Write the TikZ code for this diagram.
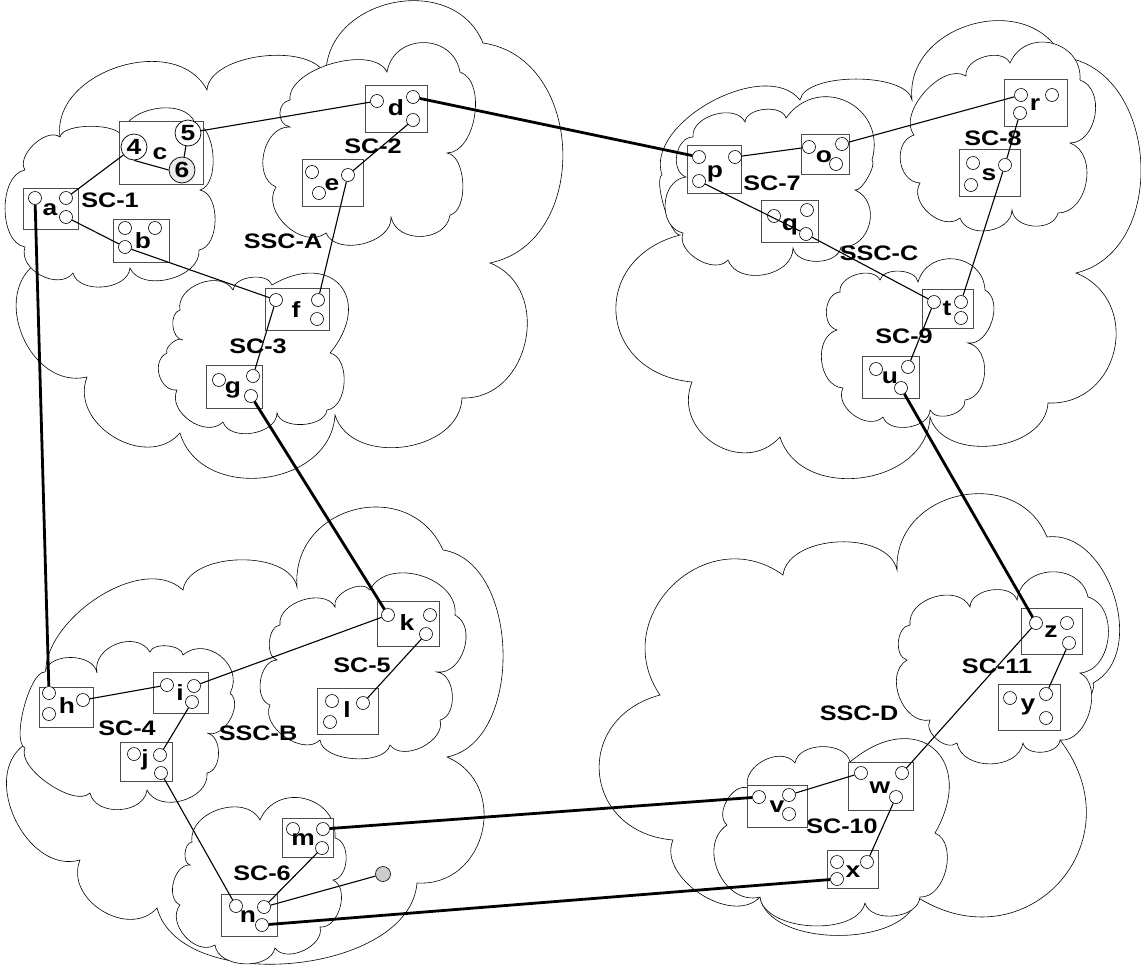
\documentclass[tikz,border=0pt]{standalone}
\usepackage{fontspec}
\newfontfamily\lab[FakeStretch=1.2]{Liberation Sans}
\usetikzlibrary{fit}
\begin{document}
\begin{tikzpicture}[x=1pt,y=-1pt,
  cloud/.style={draw=black, fill=white, line width=0.6pt},
  bu/.style={bend left=80, looseness=#1},
  box/.style={draw=black!70, line width=0.8pt, fill=white, inner sep=0pt, rectangle},
  port/.style={circle, draw=black, line width=0.6pt, fill=white, minimum size=13pt, inner sep=0pt},
  bigport/.style={circle, draw=black, line width=0.7pt, fill=white, minimum size=26pt, inner sep=0pt, font=\lab\bfseries\fontsize{22}{26}\selectfont},
  lbl/.style={font=\lab\bfseries\fontsize{21}{25}\selectfont, inner sep=0pt, anchor=base},
  let/.style={font=\lab\bfseries\fontsize{22}{26}\selectfont, inner sep=0pt, anchor=base},
  con/.style={line width=1.1pt},
  trunk/.style={line width=2.8pt}]
\fill[white] (0,0) rectangle (1141,967);
\useasboundingbox (0,0) rectangle (1141,967);

% ---------- super clouds ----------
% SSC-A
\path[cloud] (60,137) to[bu=1.1] (207,90) to[bu=0.8] (326,77) to[bu=1.26] (483,43) to[bu=1.2] (490,263) to[bu=1.27] (462,398) to[bu=1.1] (335,415) to[bu=1.2] (180,433) to[bu=1.2] (87,377) to[bu=1.2] (38,262) to[bu=0.15] (60,137) -- cycle;
% SSC-C
\path[cloud] (680,235) to[bu=0.4] (662,175) to[bu=0.9] (800,100) to[bu=0.65] (912,100) to[bu=1.25] (1062,57) to[bu=1.15] (1076,273) to[bu=1.4] (1048,403) to[bu=1.05] (930,417) to[bu=1.17] (780,437) to[bu=1.35] (692,382) to[bu=1.65] (680,235) -- cycle;
% SSC-B
\path[cloud] (50,690) to[bu=0.95] (183,590) to[bu=0.87] (297,587) to[bu=1.4] (443,550) to[bu=0.97] (447,757) to[bu=1.38] (417,883) to[bu=0.9] (157,908) to[bu=1.2] (80,860) to[bu=1.1] (24,745) to[bu=0.3] (50,690) -- cycle;
% SSC-D
\path[cloud] (660,695) to[bu=1.4] (783,575) to[bu=0.93] (897,570) to[bu=1.33] (1047,537) to[bu=1.05] (1093,683) to[bu=0.3] (1060,740) to[bu=1.55] (917,897) to[bu=0.85] (760,897) to[bu=1.0] (673,840) to[bu=1.6] (660,695) -- cycle;

% ---------- sub clouds ----------
% SC-1
\path[cloud] (25,170) to[bu=0.9] (60,137) to[bu=0.6] (122,137) to[bu=1.0] (195,123) to[bu=0.8] (200,190) to[bu=0.9] (199,250) to[bu=1.0] (130,268) to[bu=1.0] (73,273) to[bu=1.1] (25,247) to[bu=0.9] (25,170) -- cycle;
% SC-2
\path[cloud] (290,100) to[bu=0.8] (387,72) to[bu=1.4] (460,72) to[bu=0.9] (447,153) to[bu=0.8] (450,215) to[bu=1.2] (391,217) to[bu=1.0] (326,233) to[bu=1.1] (276,187) to[bu=1.1] (290,127) to[bu=1.3] (290,100) -- cycle;
% SC-3
\path[cloud] (180,310) to[bu=1.1] (233,290) to[bu=0.9] (272,285) to[bu=2.0] (330,353) to[bu=0.95] (327,410) to[bu=0.9] (277,413) to[bu=1.0] (223,422) to[bu=1.1] (177,390) to[bu=1.2] (167,353) to[bu=0.8] (183,340) to[bu=1.0] (180,310) -- cycle;
% SC-7
\path[cloud] (693,137) to[bu=1.0] (745,122) to[bu=0.9] (786,118) to[bu=1.5] (872,160) to[bu=0.5] (855,190) to[bu=1.3] (841,247) to[bu=1.0] (793,248) to[bu=1.1] (728,260) to[bu=1.0] (683,233) to[bu=1.2] (686,177) to[bu=1.1] (693,137) -- cycle;
% SC-8
\path[cloud] (914,135) to[bu=0.9] (966,76) to[bu=1.0] (1010,63) to[bu=1.4] (1080,80) to[bu=1.1] (1070,143) to[bu=1.1] (1058,213) to[bu=1.1] (1012,210) to[bu=1.1] (960,218) to[bu=1.1] (920,183) to[bu=1.2] (914,135) -- cycle;
% SC-9
\path[cloud] (840,292) to[bu=1.0] (880,280) to[bu=0.9] (918,282) to[bu=1.4] (985,290) to[bu=1.0] (968,343) to[bu=1.1] (965,400) to[bu=1.0] (930,410) to[bu=1.0] (883,417) to[bu=1.1] (843,388) to[bu=1.1] (837,330) to[bu=1.1] (840,292) -- cycle;
% SC-4
\path[cloud] (45,672) to[bu=1.0] (97,673) to[bu=1.2] (150,652) to[bu=0.8] (183,655) to[bu=1.3] (230,693) to[bu=1.0] (207,733) to[bu=1.0] (207,773) to[bu=1.1] (147,790) to[bu=1.1] (90,793) to[bu=0.7] (25,748) to[bu=0.5] (45,672) -- cycle;
% SC-5
\path[cloud] (280,625) to[bu=1.0] (335,607) to[bu=0.9] (370,590) to[bu=1.1] (455,615) to[bu=1.1] (437,672) to[bu=1.0] (440,720) to[bu=1.0] (390,745) to[bu=0.8] (320,740) to[bu=1.0] (270,705) to[bu=1.0] (277,660) to[bu=0.9] (280,625) -- cycle;
% SC-6
\path[cloud] (192,842) to[bu=1.1] (260,820) to[bu=1.4] (335,838) to[bu=1.0] (333,880) to[bu=1.0] (320,927) to[bu=1.0] (275,948) to[bu=1.0] (215,945) to[bu=1.1] (180,905) to[bu=1.0] (190,865) to[bu=0.9] (192,842) -- cycle;
% SC-10
\path[cloud] (748,788) to[bu=1.1] (795,763) to[bu=1.0] (850,762) to[bu=2.0] (935,833) to[bu=1.0] (920,897) to[bu=1.0] (865,903) to[bu=0.85] (760,897) to[bu=1.2] (727,825) to[bu=1.0] (748,788) -- cycle;
% SC-11
\path[cloud] (910,625) to[bu=1.1] (970,607) to[bu=1.0] (1017,600) to[bu=1.3] (1088,597) to[bu=1.1] (1080,673) to[bu=1.0] (1060,740) to[bu=1.0] (1023,743) to[bu=1.1] (957,743) to[bu=1.0] (930,720) to[bu=1.1] (907,660) to[bu=1.0] (910,625) -- cycle;

% ---------- boxes ----------
\node[box, fit={(23,188) (78,229)}] (A) {};
\node[box, fit={(119,121) (203,184)}] (C) {};
\node[box, fit={(113,219) (169,262)}] (B) {};
\node[box, fit={(365,85) (427,132)}] (D) {};
\node[box, fit={(302,159) (363,206)}] (E) {};
\node[box, fit={(265,288) (329,330)}] (F) {};
\node[box, fit={(206,365) (262,408)}] (G) {};
\node[box, fit={(687,145) (741,193)}] (P) {};
\node[box, fit={(801,134) (849,174)}] (O) {};
\node[box, fit={(1004,79) (1067,126)}] (R) {};
\node[box, fit={(959,149) (1020,196)}] (S) {};
\node[box, fit={(761,200) (818,242)}] (Q) {};
\node[box, fit={(922,289) (973,328)}] (T) {};
\node[box, fit={(862,356) (919,398)}] (U) {};
\node[box, fit={(39,687) (93,727)}] (H) {};
\node[box, fit={(153,672) (208,713)}] (I) {};
\node[box, fit={(120,742) (172,781)}] (J) {};
\node[box, fit={(377,601) (439,646)}] (K) {};
\node[box, fit={(317,688) (378,734)}] (L) {};
\node[box, fit={(282,818) (333,857)}] (M) {};
\node[box, fit={(221,894) (277,936)}] (N) {};
\node[box, fit={(747,785) (807,827)}] (V) {};
\node[box, fit={(848,762) (913,810)}] (W) {};
\node[box, fit={(827,850) (878,888)}] (X) {};
\node[box, fit={(1021,608) (1082,654)}] (Z) {};
\node[box, fit={(998,684) (1060,730)}] (Y) {};

% ---------- ports ----------
\node[port] (a1) at (35,198) {};  \node[port] (a2) at (66,198) {};  \node[port] (a3) at (66,217) {};
\node[port] (b1) at (125,228) {}; \node[port] (b2) at (155,228) {}; \node[port] (b3) at (125,247) {};
\node[bigport] (c4) at (134,147) {4};
\node[bigport] (c5) at (188,133) {5};
\node[bigport, fill=black!8] (c6) at (182,170) {6};
\node[port] (d1) at (377,101) {}; \node[port] (d2) at (413,97) {};  \node[port] (d3) at (413,120) {};
\node[port] (e1) at (312,172) {}; \node[port] (e2) at (319,193) {}; \node[port] (e3) at (348,175) {};
\node[port] (f1) at (276,300) {}; \node[port] (f2) at (318,300) {}; \node[port] (f3) at (317,319) {};
\node[port] (g1) at (219,380) {}; \node[port] (g2) at (253,376) {}; \node[port] (g3) at (251,396) {};
\node[port] (p1) at (699,157) {}; \node[port] (p2) at (735,157) {}; \node[port] (p3) at (699,181) {};
\node[port] (o1) at (809,147) {}; \node[port] (o2) at (842,144) {}; \node[port] (o3) at (836,164) {};
\node[port] (r1) at (1021,95) {}; \node[port] (r2) at (1052,95) {}; \node[port] (r3) at (1020,113) {};
\node[port] (s1) at (973,163) {}; \node[port] (s2) at (971,185) {}; \node[port] (s3) at (1005,165) {};
\node[port] (q1) at (774,216) {}; \node[port] (q2) at (807,210) {}; \node[port] (q3) at (806,234) {};
\node[port] (t1) at (934,302) {}; \node[port] (t2) at (961,302) {}; \node[port] (t3) at (961,318) {};
\node[port] (u1) at (876,369) {}; \node[port] (u2) at (908,367) {}; \node[port] (u3) at (901,388) {};
\node[port] (h1) at (49,693) {};  \node[port] (h2) at (49,714) {};  \node[port] (h3) at (83,700) {};
\node[port] (i1) at (167,685) {}; \node[port] (i2) at (194,686) {}; \node[port] (i3) at (192,702) {};
\node[port] (j1) at (134,754) {}; \node[port] (j2) at (160,755) {}; \node[port] (j3) at (161,773) {};
\node[port] (k1) at (388,615) {}; \node[port] (k2) at (430,615) {}; \node[port] (k3) at (426,634) {};
\node[port] (l1) at (332,701) {}; \node[port] (l2) at (330,722) {}; \node[port] (l3) at (363,703) {};
\node[port] (m1) at (293,829) {}; \node[port] (m2) at (323,829) {}; \node[port] (m3) at (322,848) {};
\node[port] (n1) at (236,906) {}; \node[port] (n2) at (264,907) {}; \node[port] (n3) at (262,925) {};
\node[port] (v1) at (759,797) {}; \node[port] (v2) at (789,795) {}; \node[port] (v3) at (789,814) {};
\node[port] (w1) at (861,773) {}; \node[port] (w2) at (902,773) {}; \node[port] (w3) at (896,797) {};
\node[port] (x1) at (837,862) {}; \node[port] (x2) at (837,879) {}; \node[port] (x3) at (867,862) {};
\node[port] (z1) at (1036,623) {}; \node[port] (z2) at (1067,623) {}; \node[port] (z3) at (1069,643) {};
\node[port] (y1) at (1010,698) {}; \node[port] (y2) at (1046,694) {}; \node[port] (y3) at (1046,718) {};
\node[port, minimum size=15pt, fill=black!20] (dot) at (383,874) {};

% ---------- box letters ----------
\node[let] (la) at (50,215) {a};
\node[let] (lb) at (143,248) {b};
\node[let] (lc) at (160,159) {c};
\node[let] (ld) at (396,115) {d};
\node[let] (le) at (332,190) {e};
\node[let] (lf) at (296,317) {f};
\node[let] (lg) at (233,393) {g};
\node[let] (lp) at (715,177) {p};
\node[let] (lo) at (824,162) {o};
\node[let] (lr) at (1035,110) {r};
\node[let] (ls) at (989,180) {s};
\node[let] (lq) at (790,230) {q};
\node[let] (lt) at (947,315) {t};
\node[let] (lu) at (890,383) {u};
\node[let] (lh) at (67,713) {h};
\node[let] (li) at (180,700) {i};
\node[let] (lj) at (145,765) {j};
\node[let] (lk) at (407,630) {k};
\node[let] (ll) at (347,717) {l};
\node[let] (lm) at (303,845) {m};
\node[let] (ln) at (248,922) {n};
\node[let] (lv) at (777,812) {v};
\node[let] (lw) at (880,793) {w};
\node[let] (lx) at (853,877) {x};
\node[let] (lz) at (1051,637) {z};
\node[let] (ly) at (1028,710) {y};

% ---------- cloud labels ----------
\node[lbl] (sc1) at (110,207) {SC-1};
\node[lbl] (sc2) at (373,153) {SC-2};
\node[lbl] (sc3) at (258,353) {SC-3};
\node[lbl] (ssca) at (283,248) {SSC-A};
\node[lbl] (sc7) at (772,190) {SC-7};
\node[lbl] (sc8) at (993,145) {SC-8};
\node[lbl] (sc9) at (904,343) {SC-9};
\node[lbl] (sscc) at (879,260) {SSC-C};
\node[lbl] (sc4) at (127,735) {SC-4};
\node[lbl] (sc5) at (362,672) {SC-5};
\node[lbl] (sc6) at (262,880) {SC-6};
\node[lbl] (sscb) at (258,740) {SSC-B};
\node[lbl] (sc10) at (842,833) {SC-10};
\node[lbl] (sc11) at (997,673) {SC-11};
\node[lbl] (sscd) at (859,720) {SSC-D};

% ---------- connectors ----------
\draw[con] (a2) -- (c4);
\draw[con] (c5) -- (d1);
\draw[con] (c4.south) -- (c6.west);
\draw[con] (c5) -- (c6);
\draw[con] (a3) -- (b3);
\draw[con] (b3) -- (f1);
\draw[con] (d3) -- (e3);
\draw[con] (e3) -- (f2);
\draw[con] (f1) -- (g2);
\draw[con] (p2) -- (o1);
\draw[con] (o2) -- (r1);
\draw[con] (r3) -- (s3);
\draw[con] (s3) -- (t2);
\draw[con] (p3) -- (q3);
\draw[con] (q3) -- (t1);
\draw[con] (t1) -- (u2);
\draw[con] (h3) -- (i1);
\draw[con] (i2) -- (k1);
\draw[con] (i3) -- (j2);
\draw[con] (j3) -- (n1);
\draw[con] (k3) -- (l3);
\draw[con] (m3) -- (n2);
\draw[con] (n2) -- (dot);
\draw[con] (v2) -- (w1);
\draw[con] (w2) -- (z1);
\draw[con] (w3) -- (x3);
\draw[con] (z3) -- (y2);
\draw[trunk] (d2) -- (p1);
\draw[trunk] (a1) -- (h1);
\draw[trunk] (g3) -- (k1);
\draw[trunk] (u3) -- (z1);
\draw[trunk] (m2) -- (v1);
\draw[trunk] (n3) -- (x2);
\end{tikzpicture}
\end{document}
